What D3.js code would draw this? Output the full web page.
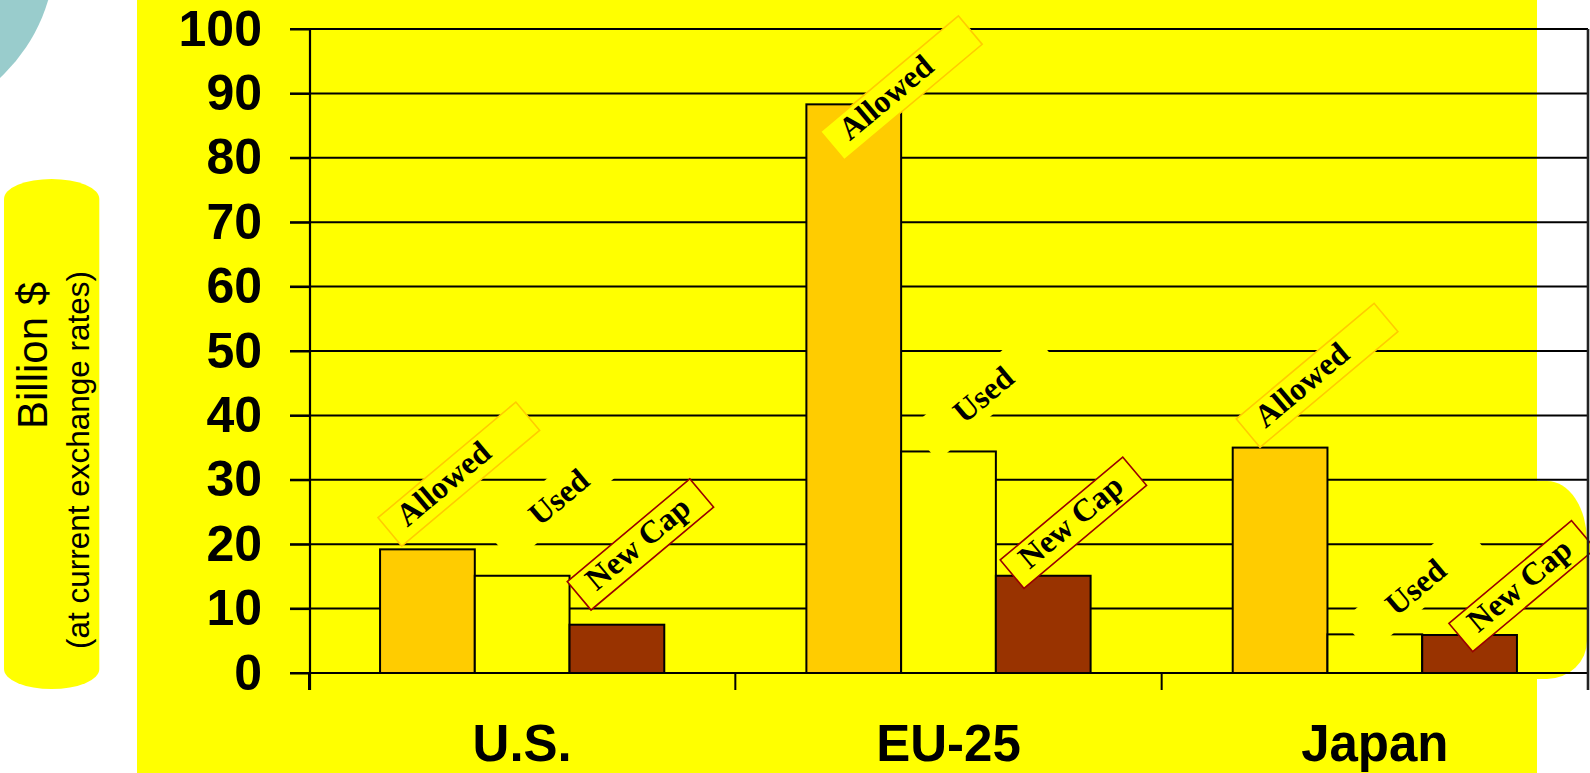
<!DOCTYPE html>
<html>
<head>
<meta charset="utf-8">
<script src="https://cdn.jsdelivr.net/npm/d3@7/dist/d3.min.js"></script>
<style>
  html, body { margin: 0; padding: 0; background: #ffffff; }
  svg { display: block; }
</style>
</head>
<body>
<svg id="chart" width="1590" height="773"></svg>
<script>
// ---------------- data ----------------
const categories = ["U.S.", "EU-25", "Japan"];
const seriesNames = ["Allowed", "Used", "New Cap"];
const allowedValues = [19.2, 88.3, 35.0];
const usedValues = [15.1, 34.4, 6.0];
const newCapValues = [7.5, 15.1, 5.9];
const yTickValues = [0, 10, 20, 30, 40, 50, 60, 70, 80, 90, 100];
const yTitle = "Billion $";
const ySubTitle = "(at current exchange rates)";

// ---------------- layout / style (not data) ----------------
const W = 1590, H = 773;
const plot = { left: 310, right: 1588, top: 29, bottom: 673 };
const seriesColors = { "Allowed": "#FFCC00", "Used": "#FFFF00", "New Cap": "#993300" };
const labelStyle = {
  "Allowed": { len: 180, wid: 37, stroke: "#FFCC00", anchor: "start" },
  "Used":    { len: 155, wid: 43, stroke: "none",    anchor: "middle" },
  "New Cap": { len: 160, wid: 37, stroke: "#990000", anchor: "start" }
};
// offset (px) of each tag's lower corner from its bar's top-left corner
const labelOffsets = [
  [[21.7, -3.3], [38.2, -12.5], [21.5, -14.7]],
  [[37.9, 55.6], [36.5, 9.2], [28.1, 12.5]],
  [[27.3, -0.3], [42.3, 18.8], [50.5, 16.7]]
];

const svg = d3.select("#chart");

// ---------------- background decorations ----------------
svg.append("rect").attr("x", 0).attr("y", 0).attr("width", W).attr("height", H).attr("fill", "#ffffff");
svg.append("circle").attr("cx", -120).attr("cy", -50).attr("r", 175.5).attr("fill", "#99CCCC");
svg.append("rect").attr("x", 137).attr("y", 0).attr("width", 1400).attr("height", H).attr("fill", "#FFFF00");
// right rounded blob
svg.append("path")
  .attr("d", "M1500,481 L1547,481 A40,60 0 0 1 1587,541 L1587,641 A40,38 0 0 1 1547,679 L1500,679 Z")
  .attr("fill", "#FFFF00");
// left pill for axis title
svg.append("path")
  .attr("d", "M4,199 A47.65,20 0 0 1 99.3,199 L99.3,669 A47.65,20 0 0 1 4,669 Z")
  .attr("fill", "#FFFF00");

svg.append("text")
  .attr("transform", "translate(47,355.5) rotate(-90)")
  .attr("text-anchor", "middle")
  .attr("font-family", "Arial, 'Liberation Sans', sans-serif")
  .attr("font-size", 42)
  .attr("fill", "#000")
  .text(yTitle);
svg.append("text")
  .attr("transform", "translate(89,460) rotate(-90)")
  .attr("text-anchor", "middle")
  .attr("font-family", "Arial, 'Liberation Sans', sans-serif")
  .attr("font-size", 31.5)
  .attr("fill", "#000")
  .text(ySubTitle);

// ---------------- scales ----------------
const y = d3.scaleLinear().domain([0, 100]).range([plot.bottom, plot.top]);
const x0 = d3.scaleBand().domain(categories).range([309, plot.right]).paddingInner(0).paddingOuter(0);
const x1 = d3.scaleBand().domain(seriesNames).range([0, x0.bandwidth()]).paddingInner(0).paddingOuter(0.75);

const valuesBySeries = { "Allowed": allowedValues, "Used": usedValues, "New Cap": newCapValues };
const barData = [];
categories.forEach((c, ci) => {
  seriesNames.forEach((s, si) => {
    barData.push({ cat: c, ci, series: s, si, value: valuesBySeries[s][ci] });
  });
});

// ---------------- gridlines ----------------
svg.append("g").selectAll("line").data(yTickValues).join("line")
  .attr("x1", 290).attr("x2", plot.right)
  .attr("y1", d => y(d)).attr("y2", d => y(d))
  .attr("stroke", "#000").attr("stroke-width", 2);

// ---------------- bars ----------------
svg.append("g").selectAll("rect").data(barData).join("rect")
  .attr("x", d => x0(d.cat) + x1(d.series))
  .attr("y", d => y(d.value))
  .attr("width", x1.bandwidth())
  .attr("height", d => y(0) - y(d.value))
  .attr("fill", d => seriesColors[d.series])
  .attr("stroke", "#000").attr("stroke-width", 2);

// ---------------- tag labels ----------------
const tags = svg.append("g").selectAll("g").data(barData).join("g")
  .attr("transform", d => {
    const off = labelOffsets[d.ci][d.si];
    const ax = x0(d.cat) + x1(d.series) + off[0];
    const ay = y(d.value) + off[1];
    return `translate(${ax},${ay}) rotate(-40)`;
  });
tags.append("rect")
  .attr("x", 0)
  .attr("y", d => -labelStyle[d.series].wid)
  .attr("width", d => labelStyle[d.series].len)
  .attr("height", d => labelStyle[d.series].wid)
  .attr("fill", "#FFFF00")
  .attr("stroke", d => labelStyle[d.series].stroke)
  .attr("stroke-width", 1.6);
tags.append("text")
  .attr("x", d => labelStyle[d.series].anchor === "start" ? 16 : labelStyle[d.series].len / 2)
  .attr("y", -10.5)
  .attr("text-anchor", d => labelStyle[d.series].anchor)
  .attr("font-family", "'Times New Roman', 'Liberation Serif', serif")
  .attr("font-weight", "bold")
  .attr("font-size", 32)
  .attr("fill", "#000")
  .text(d => d.series);

// ---------------- axes ----------------
const yAxis = d3.axisLeft(y).tickValues(yTickValues).tickSize(20).tickPadding(28).tickFormat(d3.format("d"));
const gy = svg.append("g").attr("transform", `translate(${plot.left},0)`).call(yAxis);
gy.select(".domain").remove();
gy.selectAll(".tick line").attr("stroke", "#000").attr("stroke-width", 2);
gy.selectAll(".tick text")
  .attr("font-family", "Arial, 'Liberation Sans', sans-serif")
  .attr("font-weight", "bold")
  .attr("font-size", 50)
  .attr("fill", "#000");

// vertical axis line
svg.append("line")
  .attr("x1", plot.left).attr("x2", plot.left)
  .attr("y1", plot.top).attr("y2", 690)
  .attr("stroke", "#000").attr("stroke-width", 2.2);

// category boundary ticks
const edges = categories.map(c => x0(c)).concat([x0.range()[1]]);
svg.append("g").selectAll("line").data(edges).join("line")
  .attr("x1", d => d).attr("x2", d => d)
  .attr("y1", plot.bottom).attr("y2", 690)
  .attr("stroke", "#000").attr("stroke-width", 2);

// right frame line
svg.append("line")
  .attr("x1", plot.right).attr("x2", plot.right)
  .attr("y1", plot.top).attr("y2", 690)
  .attr("stroke", "#222").attr("stroke-width", 2.6);

// category labels
const xAxis = d3.axisBottom(x0).tickSize(0).tickPadding(0);
const gx = svg.append("g").attr("transform", `translate(0,${plot.bottom})`).call(xAxis);
gx.select(".domain").remove();
gx.selectAll(".tick text")
  .attr("y", 88).attr("dy", 0)
  .attr("font-family", "Arial, 'Liberation Sans', sans-serif")
  .attr("font-weight", "bold")
  .attr("font-size", 51)
  .attr("fill", "#000");
</script>
</body>
</html>
